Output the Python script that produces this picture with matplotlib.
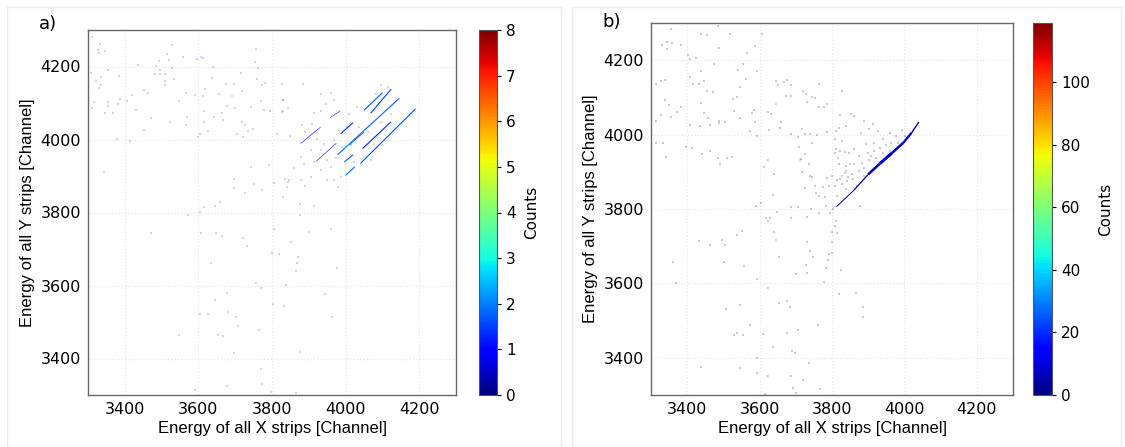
import numpy as np
import matplotlib
matplotlib.use("Agg")
import matplotlib.pyplot as plt
from matplotlib.collections import LineCollection
from matplotlib.patches import Rectangle

plt.rcParams['font.family'] = ['DejaVu Sans']

# ---- panel a) : stripe segments (x0, y0, x1, y1) and counts per bin
a_seg_x0 = [3978, 4040, 4050, 4068, 4046, 4000, 3996, 3987, 3958, 3878, 3920, 4000, 4010]
a_seg_y0 = [3958, 3934, 4080, 4072, 3975, 3902, 3938, 4016, 4060, 3989, 3940, 3979, 3985]
a_seg_x1 = [4146, 4190, 4100, 4124, 4123, 4025, 4020, 4020, 3985, 3932, 3975, 4022, 4050]
a_seg_y1 = [4113, 4084, 4128, 4138, 4048, 3925, 3958, 4046, 4078, 4034, 3990, 3999, 4020]
a_seg_counts = [1.8, 1.6, 1.7, 1.5, 1.3, 1.8, 1.8, 1.4, 1.2, 1.0, 1.0, 2.6, 1.1]

# ---- panel a) : single events (x, y)
a_event_x = [3310, 3333, 3328, 3346, 3331, 3308, 3335, 3322, 3334, 3331, 3315, 3310, 3355,
             3346, 3367, 3381, 3388, 3355, 3385, 3355, 3379, 3343, 3415, 3436, 3406, 3419,
             3431, 3452, 3452, 3463, 3470, 3481, 3486, 3492, 3497, 3497, 3508, 3508, 3510,
             3516, 3519, 3522, 3527, 3528, 3534, 3547, 3558, 3565, 3570, 3567, 3595, 3592,
             3599, 3604, 3608, 3613, 3613, 3616, 3616, 3619, 3627, 3639, 3638, 3643, 3656,
             3665, 3668, 3674, 3679, 3692, 3696, 3699, 3704, 3716, 3718, 3719, 3722, 3727,
             3736, 3742, 3743, 3749, 3754, 3756, 3759, 3763, 3769, 3772, 3779, 3795, 3793,
             3781, 3772, 3752, 3727, 3696, 3696, 3658, 3645, 3616, 3805, 3827, 3830, 3829,
             3843, 3813, 3836, 3843, 3829,
             3572, 3604, 3877, 3913, 3877, 3472, 3608, 3649, 3663, 3722, 3732, 3805, 3900,
             3959, 3851, 3800, 3820, 3872, 3868, 3865, 3977, 3633, 3756, 3769, 3838, 3679,
             3645, 3943, 3802, 3832, 3604, 3627, 3681, 3701, 3963, 3707, 3765, 3548, 3654,
             3666, 3696, 3875, 3770, 3774, 3679, 3590, 3798, 3865,
             3885, 3830, 3828, 3932, 3960, 3969, 3946, 3932, 3914, 3909, 3882, 3891, 3850,
             3923, 3941, 3932, 3905, 3878, 3859, 3887, 3914, 3950, 3960, 3932, 3905, 3878,
             3846, 3841, 3891, 3969, 3978, 3987, 3950, 4014, 4037, 4060, 4078, 4096, 4114,
             4096, 4082, 4032, 4010, 4123, 4051, 4069, 4005, 3982, 3969, 3991, 4023, 3973]
a_event_y = [4282, 4262, 4245, 4242, 4236, 4182, 4171, 4160, 4148, 4141, 4102, 4087, 4102,
             4072, 4072, 4098, 4111, 4091, 4175, 4191, 4002, 3911, 3996, 4205, 4105, 4123,
             4081, 4136, 4025, 4127, 4060, 4180, 4202, 4216, 4191, 4180, 4180, 4160, 4148,
             4234, 4218, 4048, 4260, 4196, 4166, 4105, 4227, 4127, 4061, 4041, 4221, 4123,
             4007, 4014, 4227, 4223, 4118, 4078, 4048, 4139, 4023, 4198, 4169, 4063, 4125,
             4072, 4054, 4151, 4091, 4118, 4151, 4087, 4014, 4182, 4134, 4047, 4007, 4039,
             4023, 3925, 4089, 4030, 4211, 4248, 4166, 4196, 4105, 4148, 4080, 4078, 3931,
             4154, 3863, 3878, 3854, 3892, 3868, 3829, 3818, 3814, 3881, 4151, 4107, 4078,
             4087, 4016, 3893, 3884, 3843,
             3793, 3802, 3823, 3818, 3793, 3745, 3745, 3743, 3736, 3729, 3708, 3754, 3746,
             3754, 3718, 3688, 3686, 3677, 3663, 3641, 3647, 3663, 3607, 3592, 3601, 3579,
             3561, 3576, 3549, 3545, 3522, 3522, 3527, 3514, 3514, 3490, 3479, 3465, 3465,
             3463, 3414, 3418, 3372, 3331, 3326, 3313, 3309, 3306,
             4151, 4107, 4075, 4124, 4127, 4109, 4096, 4078, 4073, 4043, 4039, 4021, 4009,
             4002, 3989, 3971, 3971, 3952, 3923, 3932, 3939, 3943, 3925, 3916, 3898, 3889,
             3889, 3871, 3872, 3889, 3871, 3898, 3889, 3984, 4034, 4021, 3989, 4048, 4143,
             4148, 4125, 4089, 4071, 4071, 3952, 3943, 4034, 4025, 3998, 3980, 3939, 3948]

# ---- panel b) : main band as polyline vertices with counts per piece
b_band_x = [3812, 3860, 3900, 3932, 3965, 3997, 4020, 4040]
b_band_y = [3806, 3850, 3893, 3922, 3950, 3978, 4005, 4034]
b_band_counts = [3, 4, 8, 10, 8, 7, 4]

# ---- panel b) : single events (x, y)
b_event_x = [3354, 3331, 3345, 3357, 3382, 3345, 3439, 3455, 3486, 3519, 3488, 3587, 3606,
             3566, 3401, 3423, 3407, 3474, 3554, 3439, 3540, 3592, 3315, 3329, 3338, 3407,
             3416, 3432, 3446, 3545, 3563, 3455, 3472, 3338, 3350, 3382, 3371, 3354, 3329,
             3315, 3437, 3446, 3457, 3488, 3504, 3529, 3538, 3526, 3545, 3578, 3585, 3587,
             3573, 3407, 3435, 3463, 3488, 3645, 3667, 3651, 3676, 3688, 3623, 3632, 3645,
             3673, 3688, 3720, 3728, 3745, 3754, 3764, 3786, 3777, 3765, 3732, 3660, 3626,
             3655, 3688, 3707, 3726, 3739, 3758, 3786, 3810, 3829, 3820, 3313, 3333, 3341,
             3397, 3413, 3463, 3441, 3484, 3510, 3523, 3491, 3594, 3613, 3624, 3639, 3636,
             3709, 3714, 3716, 3726, 3737, 3745, 3756, 3765, 3775, 3782, 3786,
             3589, 3604, 3688, 3705, 3742, 3765, 3784, 3803, 3876, 3648, 3617, 3629, 3623,
             3686, 3732, 3795, 3808, 3812, 3801, 3814, 3432, 3463, 3495, 3504, 3538, 3551,
             3641, 3645, 3732, 3801, 3739, 3748, 3792, 3801, 3653, 3789, 3362, 3502, 3557,
             3728, 3784, 3826, 3700, 3732, 3594, 3777, 3369, 3624, 3820, 3866, 3506, 3547,
             3654, 3676, 3684, 3887, 3885, 3574, 3762, 3538, 3529, 3554, 3610, 3676, 3705,
             3636, 3690, 3698, 3594, 3737, 3439, 3547, 3592, 3622, 3688, 3720, 3767, 3692,
             3701, 3615,
             3823, 3852, 3861, 3889, 3913, 3838, 3880, 3903, 3927, 3960, 3978, 3992, 4002,
             3941, 3917, 3894, 3861, 3828, 3847, 3875, 3899, 3917, 3932, 3950, 3964, 3884,
             3903, 3861, 3838, 3856, 3875, 3889, 3828, 3814, 3842, 3908, 3922, 3941, 3809,
             3819, 3800, 3791, 3716, 3744, 3753, 3725, 3711, 3739, 3983, 3960, 3870, 3889,
             3808, 3812, 3817, 3822, 3836, 3840, 3850, 3836, 3845, 3822, 3857, 3808, 3814,
             3829, 3840]
b_event_y = [4283, 4241, 4249, 4247, 4241, 4229, 4271, 4268, 4292, 4271, 4232, 4238, 4271,
             4220, 4214, 4205, 4202, 4190, 4190, 4170, 4175, 4172, 4136, 4143, 4148, 4154,
             4136, 4136, 4145, 4127, 4150, 4118, 4114, 4094, 4080, 4073, 4062, 4046, 4053,
             4037, 4085, 4058, 4044, 4037, 4035, 4064, 4100, 4096, 4044, 4058, 4067, 4035,
             4011, 4026, 4024, 4026, 4031, 4145, 4141, 4132, 4148, 4134, 4062, 4055, 4082,
             4103, 4103, 4118, 4109, 4100, 4098, 4136, 4082, 4073, 4073, 4087, 4035, 4013,
             4017, 4002, 3993, 4002, 4002, 3999, 4008, 4011, 4118, 4017, 3977, 3977, 3939,
             3968, 3963, 3957, 3948, 3936, 3936, 3941, 3921, 3995, 3912, 3932, 3894, 3837,
             3966, 3934, 3900, 3948, 3921, 3885, 3844, 3835, 3858, 3831, 3882,
             3809, 3815, 3806, 3806, 3800, 3788, 3809, 3800, 3809, 3791, 3776, 3776, 3767,
             3776, 3779, 3790, 3754, 3767, 3737, 3736, 3713, 3704, 3716, 3704, 3731, 3740,
             3737, 3716, 3711, 3711, 3686, 3671, 3680, 3682, 3671, 3664, 3658, 3658, 3646,
             3650, 3641, 3635, 3626, 3628, 3612, 3605, 3601, 3587, 3571, 3574, 3532, 3541,
             3547, 3552, 3536, 3536, 3509, 3488, 3488, 3468, 3461, 3461, 3464, 3468, 3475,
             3428, 3417, 3414, 3399, 3387, 3374, 3372, 3359, 3352, 3352, 3339, 3315, 3320,
             3306, 3303,
             4052, 4055, 4050, 4037, 4028, 4023, 4005, 4014, 4010, 4005, 3996, 4012, 3996,
             3987, 3978, 3974, 3960, 3983, 3951, 3942, 3951, 3956, 3965, 3971, 3978, 3924,
             3933, 3920, 3902, 3893, 3902, 3911, 3888, 3879, 3875, 3942, 3938, 3951, 3951,
             3920, 3888, 3861, 4014, 3978, 3861, 3857, 3933, 3888, 3978, 3956, 3861, 3888,
             3988, 3961, 3936, 3957, 3952, 3916, 3921, 3898, 3885, 3880, 3880, 3862, 3835,
             3867, 3853]

ticks = [3400, 3600, 3800, 4000, 4200]
a_cbar_ticks = [0, 1, 2, 3, 4, 5, 6, 7, 8]
b_cbar_ticks = [0, 20, 40, 60, 80, 100]

W, H = 1125, 447
fig = plt.figure(figsize=(W / 100, H / 100), dpi=100)
cmap = plt.get_cmap('jet')
label_font = ['Liberation Sans', 'DejaVu Sans']

# light frames around the two panels
for x0, x1 in [(7, 561), (572, 1121)]:
    fig.patches.append(Rectangle((x0 / W, 0.0), (x1 - x0) / W, 1 - 7 / H,
                                 transform=fig.transFigure, fill=False,
                                 edgecolor='#ebebeb', linewidth=1.0))


def panel(ax_rect, cb_rect, vmax, seg_lines, seg_counts, seg_lw, ex, ey, dot_alpha,
          cb_ticks, tag, tag_xy):
    ax = fig.add_axes(ax_rect)
    norm = plt.Normalize(0, vmax)
    ax.set_xlim(3300, 4300)
    ax.set_ylim(3300, 4300)
    ax.grid(True, color='#e6e6e6', linestyle=':', linewidth=0.9)
    ax.set_axisbelow(True)
    # single events
    ax.scatter(ex, ey, s=1.3, marker='s', linewidths=0,
               color=cmap(norm(1)), alpha=dot_alpha, zorder=2)
    lc = LineCollection(seg_lines, colors=[cmap(norm(c)) for c in seg_counts],
                        linewidths=seg_lw, zorder=3, capstyle='butt')
    ax.add_collection(lc)
    ax.set_xticks(ticks)
    ax.set_yticks(ticks)
    ax.tick_params(labelsize=11.5, length=0, pad=5)
    for s in ax.spines.values():
        s.set_color('#666666')
        s.set_linewidth(1.0)
    ax.set_xlabel('Energy of all X strips [Channel]', fontsize=12, family=label_font, labelpad=3)
    ax.set_ylabel('Energy of all Y strips [Channel]', fontsize=12, family=label_font, labelpad=4)

    cax = fig.add_axes(cb_rect)
    sm = plt.cm.ScalarMappable(norm=norm, cmap=cmap)
    cb = fig.colorbar(sm, cax=cax, ticks=cb_ticks)
    cb.outline.set_edgecolor('#555555')
    cb.outline.set_linewidth(0.8)
    cb.ax.tick_params(labelsize=11, length=3, width=0.8)
    cb.set_label('Counts', fontsize=11, labelpad=6)
    fig.text(tag_xy[0] / W, 1 - tag_xy[1] / H, tag, fontsize=13, ha='center', va='center')
    return ax


# panel a
a_lines = [[(x0, y0), (x1, y1)] for x0, y0, x1, y1 in zip(a_seg_x0, a_seg_y0, a_seg_x1, a_seg_y1)]
a_lw = [0.8 if c >= 1.3 else 0.4 for c in a_seg_counts]
panel([88 / W, 52 / H, 368 / W, 365 / H], [479 / W, 52 / H, 18 / W, 365 / H], 8,
      a_lines, a_seg_counts, a_lw, a_event_x, a_event_y, 0.18, a_cbar_ticks, 'a)', (48, 24))

# panel b
b_lines = [[(b_band_x[i], b_band_y[i]), (b_band_x[i + 1], b_band_y[i + 1])]
           for i in range(len(b_band_x) - 1)]
b_lw = [0.7, 0.9, 1.8, 2.2, 1.8, 1.6, 1.0]
panel([651 / W, 52 / H, 362 / W, 372 / H], [1033 / W, 52 / H, 19 / W, 372 / H], 119,
      b_lines, b_band_counts, b_lw, b_event_x, b_event_y, 0.22, b_cbar_ticks, 'b)', (612, 22))

fig.savefig('out.png', dpi=100, facecolor='white')
